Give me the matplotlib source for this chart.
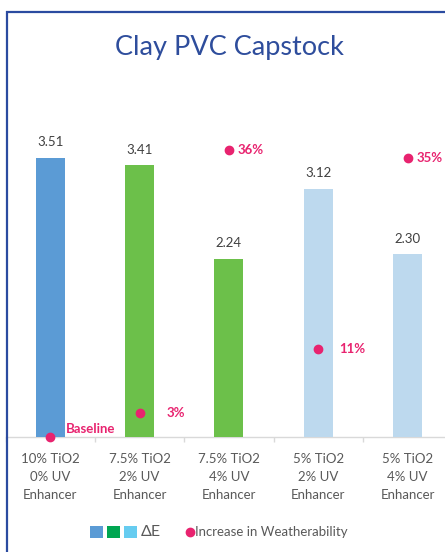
import matplotlib
matplotlib.use("Agg")
import matplotlib.pyplot as plt
from matplotlib.patches import Rectangle
from matplotlib.lines import Line2D

plt.rcParams['font.family'] = ['Lato', 'DejaVu Sans']

categories = ["10% TiO2\n0% UV\nEnhancer", "7.5% TiO2\n2% UV\nEnhancer",
              "7.5% TiO2\n4% UV\nEnhancer", "5% TiO2\n2% UV\nEnhancer",
              "5% TiO2\n4% UV\nEnhancer"]
delta_e = [3.51, 3.41, 2.24, 3.12, 2.30]
weather_pct = [0, 3, 36, 11, 35]
weather_labels = ["Baseline", "3%", "36%", "11%", "35%"]

bar_colors = ["#5B9BD5", "#6CC04A", "#6CC04A", "#BDD9EE", "#BDD9EE"]
legend_colors = ["#5B9BD5", "#00A651", "#66CCF0"]
pink = "#E8236F"
# label offsets in points (dx, dy) for the pink labels
label_offsets = [(11.5, 5.5), (19.5, 0), (6.5, 0), (15, 0), (6.5, 0)]

W, H, DPI = 445, 552, 100
fig = plt.figure(figsize=(W / DPI, H / DPI), dpi=DPI)
fig.patch.set_facecolor("white")

px = lambda v: v / W
py = lambda v: v / H
ax_left, ax_right = 5.7, 452.2
ax_bottom, ax_top = 437, 118.5
ax = fig.add_axes([px(ax_left), 1 - py(ax_bottom), px(ax_right - ax_left), py(ax_bottom - ax_top)])
ax.set_facecolor("none")

x = list(range(len(categories)))
bars = ax.bar(x, delta_e, width=0.325, color=bar_colors, zorder=2)
for xi, v in zip(x, delta_e):
    ax.annotate(f"{v:.2f}", (xi, v), xytext=(0, 11), textcoords="offset points",
                ha="center", va="center", fontsize=9.5, color="#404040")

ax.set_xlim(-0.5, len(categories) - 0.5)
ax.set_ylim(0, 4)
ax.set_yticks([])
for s in ["top", "right", "left"]:
    ax.spines[s].set_visible(False)
ax.spines["bottom"].set_color("#D9D9D9")
ax.spines["bottom"].set_linewidth(1.0)
ax.spines["bottom"].set_zorder(1)
ax.set_xticks(x)
ax.set_xticklabels(categories, fontsize=9.5, color="#595959", linespacing=1.58)
ax.tick_params(axis="x", which="major", length=0, pad=11.5)
ax.set_xticks([i - 0.5 for i in range(len(categories) + 1)], minor=True)
ax.tick_params(axis="x", which="minor", length=3.6, color="#D9D9D9", width=1.0)

ax2 = ax.twinx()
ax2.set_ylim(0, 40)
ax2.set_yticks([])
for s in ax2.spines.values():
    s.set_visible(False)
ax2.plot(x, weather_pct, linestyle="none", marker="o", markersize=6,
         color=pink, clip_on=False, zorder=5)
for xi, v, lab, (dx, dy) in zip(x, weather_pct, weather_labels, label_offsets):
    ax2.annotate(lab, (xi, v), xytext=(dx, dy), textcoords="offset points",
                 ha="left", va="center", fontsize=9.5, fontweight="bold", color=pink)

# overlay in pixel coordinates for frame, title, legend
ov = fig.add_axes([0, 0, 1, 1], zorder=10)
ov.set_xlim(0, W)
ov.set_ylim(H, 0)
ov.axis("off")
ov.patch.set_alpha(0)
frame_c = "#2B4BA0"
ov.add_line(Line2D([7, 7], [11, H], color=frame_c, linewidth=1.6, solid_capstyle="butt"))
ov.add_line(Line2D([6.2, W], [12, 12], color=frame_c, linewidth=1.6, solid_capstyle="butt"))

ov.text(229, 48, "Clay PVC Capstock", ha="center", va="center", fontsize=19.5,
        color="#2E4D9C")

# legend
sq = 12.5
for i, (c, x0) in enumerate(zip(legend_colors, [90, 107, 124])):
    ov.add_patch(Rectangle((x0, 532 - sq / 2), sq, sq, facecolor=c, edgecolor="none"))
ov.text(141, 532, "ΔE", ha="left", va="center", fontsize=11.5, color="#595959")
ov.plot([189.5], [532], marker="o", markersize=6, color=pink, linestyle="none")
ov.text(195, 532, "Increase in Weatherability", ha="left", va="center",
        fontsize=9.5, color="#595959")

fig.savefig("out.png", dpi=DPI)
